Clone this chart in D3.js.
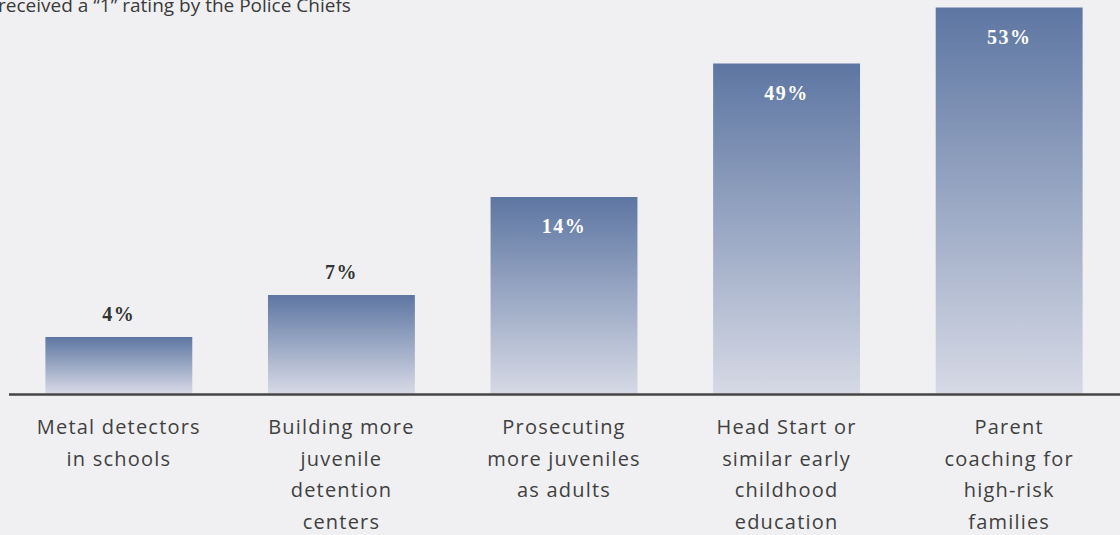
<!DOCTYPE html>
<html>
<head>
<meta charset="utf-8">
<script src="https://cdn.jsdelivr.net/npm/d3@7"></script>
<style>
  html, body { margin: 0; padding: 0; background: #f0f0f2; }
  svg { display: block; }
</style>
</head>
<body>
<svg id="chart" width="1120" height="535"></svg>
<script>
const categories = [
  ["Metal detectors", "in schools"],
  ["Building more", "juvenile", "detention", "centers"],
  ["Prosecuting", "more juveniles", "as adults"],
  ["Head Start or", "similar early", "childhood", "education"],
  ["Parent", "coaching for", "high-risk", "families"]
];
const values = [4, 7, 14, 49, 53];
const valueLabels = ["4%", "7%", "14%", "49%", "53%"];
const titleText = "received a \u201C1\u201D rating by the Police Chiefs";

const W = 1120, H = 535;
const svg = d3.select("#chart");
const keys = categories.map((c, i) => "c" + i);

const x = d3.scaleBand().domain(keys).range([8, 1120]).paddingInner(0.34).paddingOuter(0.168);
// the original graphic uses a non-proportional (piecewise) vertical scale
const y = d3.scaleLinear().domain([0, 14, 49, 53]).range([393, 197, 63.5, 7.5]);

const defs = svg.append("defs");
const grad = defs.append("linearGradient").attr("id", "barGrad")
  .attr("x1", 0).attr("y1", 0).attr("x2", 0).attr("y2", 1);
grad.append("stop").attr("offset", "0%").attr("stop-color", "#5d76a2");
grad.append("stop").attr("offset", "100%").attr("stop-color", "#d6d9e5");

// title (cropped at top in the original)
svg.append("text").attr("x", -2).attr("y", 12)
  .attr("font-family", "'Open Sans', Lato, sans-serif").attr("font-size", 19)
  .attr("fill", "#3a3a3a").text(titleText);

// bars
svg.selectAll("rect.bar").data(values).join("rect").attr("class", "bar")
  .attr("x", (d, i) => x(keys[i]))
  .attr("width", x.bandwidth())
  .attr("y", d => y(d))
  .attr("height", d => y(0) - y(d))
  .attr("fill", "url(#barGrad)");

// value labels
svg.selectAll("text.val").data(values).join("text").attr("class", "val")
  .attr("x", (d, i) => x(keys[i]) + x.bandwidth() / 2)
  .attr("y", d => d < 10 ? y(d) - 16 : y(d) + 36)
  .attr("text-anchor", "middle")
  .attr("font-family", "'Liberation Serif', 'DejaVu Serif', serif")
  .attr("font-weight", "bold").attr("font-size", 20)
  .attr("letter-spacing", "1.5px")
  .attr("fill", d => d < 10 ? "#333" : "#ffffff")
  .text((d, i) => valueLabels[i]);

// baseline axis
svg.append("line").attr("x1", 9).attr("x2", W).attr("y1", y(0) + 1.5).attr("y2", y(0) + 1.5)
  .attr("stroke", "#454545").attr("stroke-width", 2.5);

// category labels
const lab = svg.selectAll("text.cat").data(categories).join("text").attr("class", "cat")
  .attr("x", (d, i) => x(keys[i]) + x.bandwidth() / 2)
  .attr("y", 434)
  .attr("text-anchor", "middle")
  .attr("font-family", "'Open Sans', Lato, sans-serif").attr("font-size", 20)
  .attr("letter-spacing", "1.2px")
  .attr("fill", "#404040");
lab.selectAll("tspan").data(d => d).join("tspan")
  .attr("x", function () { return d3.select(this.parentNode).attr("x"); })
  .attr("dy", (d, i) => i === 0 ? 0 : 31.5)
  .text(d => d);
</script>
</body>
</html>
